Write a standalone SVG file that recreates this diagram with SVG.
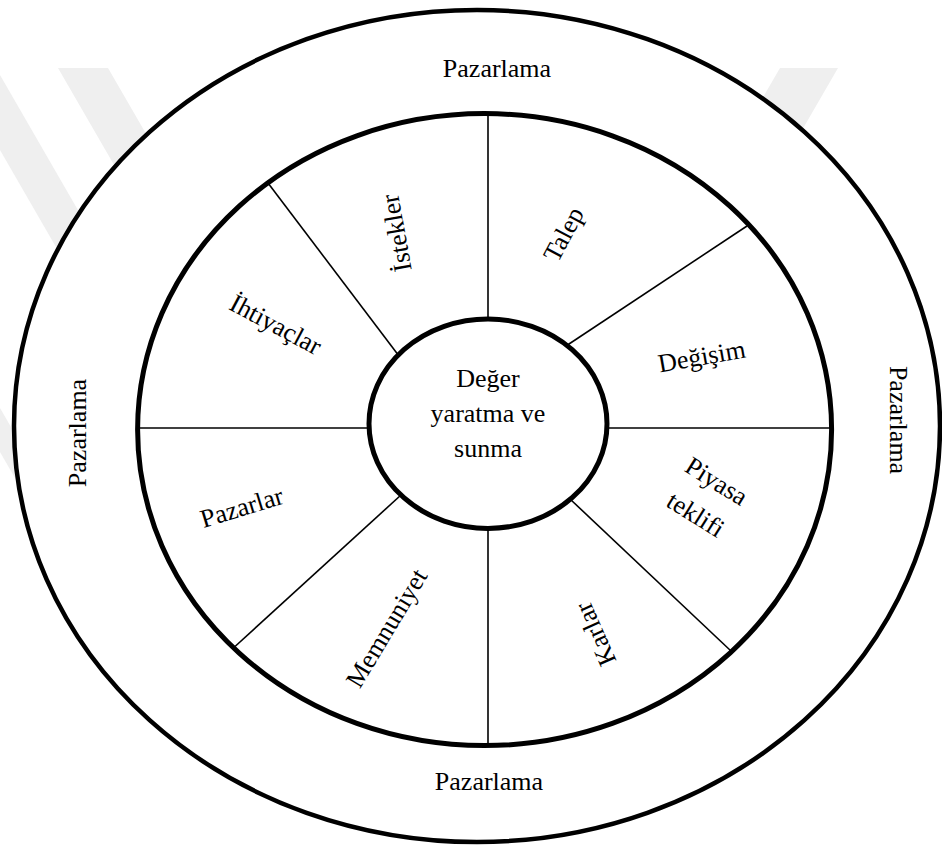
<svg xmlns="http://www.w3.org/2000/svg" width="942" height="846" viewBox="0 0 942 846">
  <style>
    .lbl { font-family: "Liberation Serif", "Times New Roman", serif; font-size: 26px; fill: #000; text-anchor: middle; }
    .ring { fill: #fff; stroke: #000; }
    .spoke { stroke: #000; stroke-width: 1.6; fill: none; }
    .wm { fill: #efefef; }
  </style>
  <rect width="942" height="846" fill="#fff"/>
  <g id="watermark">
    <polygon class="wm" points="58,68 108,68 300,400 250,400"/>
    <polygon class="wm" points="0,75 0,150 150,410 150,335"/>
    <polygon class="wm" points="0,408 0,452 60,556 60,512"/>
    <polygon class="wm" points="780,68 838,68 640,410 582,410"/>
  </g>
  <g id="outer-ring">
    <ellipse class="ring" cx="477" cy="426" rx="463" ry="416" stroke-width="4.5"/>
    <text class="lbl" x="497" y="77">Pazarlama</text>
    <text class="lbl" x="489" y="790">Pazarlama</text>
    <text class="lbl" transform="translate(86,433) rotate(-90)">Pazarlama</text>
    <text class="lbl" transform="translate(890,420) rotate(90)">Pazarlama</text>
  </g>
  <g id="inner-ring">
    <ellipse class="ring" cx="484.6" cy="429.6" rx="347" ry="316" stroke-width="5"/>
  </g>
  <g id="connectors">
    <line class="spoke" x1="488" y1="114" x2="488" y2="322"/>
    <line class="spoke" x1="488" y1="526" x2="488" y2="745"/>
    <line class="spoke" x1="138" y1="428" x2="372" y2="428"/>
    <line class="spoke" x1="604" y1="428" x2="831" y2="428"/>
    <line class="spoke" x1="268" y1="183" x2="399" y2="356"/>
    <line class="spoke" x1="747" y1="226" x2="566" y2="346"/>
    <line class="spoke" x1="235" y1="646.5" x2="401" y2="495"/>
    <line class="spoke" x1="570" y1="499" x2="731" y2="651"/>
  </g>
  <g id="seg-istekler"><text class="lbl" transform="translate(397,233) rotate(-100)" y="8">İstekler</text></g>
  <g id="seg-talep"><text class="lbl" transform="translate(565,235) rotate(-62)" y="7">Talep</text></g>
  <g id="seg-degisim"><text class="lbl" transform="translate(702,358) rotate(-10)" y="7">Değişim</text></g>
  <g id="seg-piyasa"><g transform="translate(705.4,499) rotate(32)">
    <text class="lbl" x="0" y="-12.4">Piyasa</text>
    <text class="lbl" x="0" y="27">teklifi</text>
  </g></g>
  <g id="seg-karlar"><text class="lbl" transform="translate(596,634) rotate(-114)" y="8">Karlar</text></g>
  <g id="seg-memnuniyet"><text class="lbl" transform="translate(388,629) rotate(-59)" y="7">Memnuniyet</text></g>
  <g id="seg-pazarlar"><text class="lbl" transform="translate(242,508) rotate(-17)" y="8">Pazarlar</text></g>
  <g id="seg-ihtiyaclar"><text class="lbl" transform="translate(275,326) rotate(28)" y="7">İhtiyaçlar</text></g>
  <g id="center">
    <ellipse class="ring" cx="488" cy="423.7" rx="119" ry="104.7" stroke-width="5"/>
    <text class="lbl" x="488" y="387">Değer</text>
    <text class="lbl" x="488" y="422">yaratma ve</text>
    <text class="lbl" x="488" y="457">sunma</text>
  </g>
</svg>
